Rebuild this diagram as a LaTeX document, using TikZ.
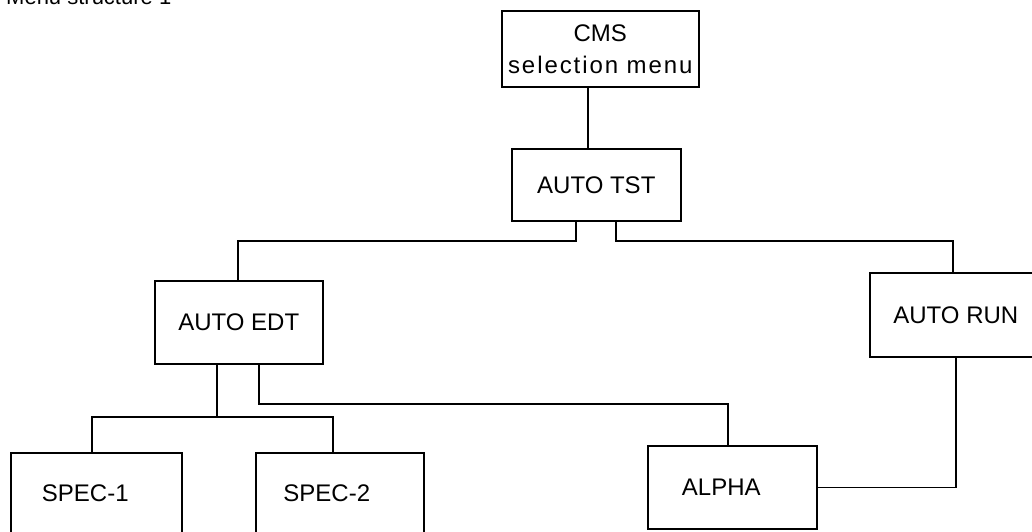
\documentclass[tikz,border=0pt]{standalone}
\usepackage{fontspec}
\setmainfont{Liberation Sans}
\begin{document}
\begin{tikzpicture}[x=1pt,y=-1pt,
  box/.style={draw, line width=1.6pt, rectangle, anchor=north west, inner sep=0pt, align=center, font=\fontsize{24}{32}\selectfont},
  wire/.style={line width=1.6pt}]
\useasboundingbox (0,0) rectangle (1032,531);
\begin{scope}
\clip (0,0) rectangle (1032,531);
\node[anchor=base west, inner sep=0pt, font=\fontsize{22}{26}\selectfont] (title) at (6,4) {Menu structure 1};
\node[box, minimum width=197pt, minimum height=76pt] (cms) at (501,10) {CMS\\{\addfontfeature{LetterSpace=8}selection menu}};
\node[box, minimum width=169pt, minimum height=72pt] (tst) at (511,148) {AUTO TST};
\node[box, minimum width=168pt, minimum height=83pt] (edt) at (154,280) {AUTO EDT};
\node[box, minimum width=172pt, minimum height=84pt] (run) at (869,272) {AUTO RUN};
\node[box, minimum width=171pt, minimum height=80pt] (spec1) at (10,452) {SPEC-1\hspace*{22pt}};
\node[box, minimum width=168pt, minimum height=80pt] (spec2) at (255,452) {SPEC-2\hspace*{26pt}};
\node[box, minimum width=169pt, minimum height=83pt] (alpha) at (647,445) {ALPHA\hspace*{22pt}};
\coordinate (a) at (588,0);
\coordinate (b) at (576,241);
\coordinate (c) at (616,241);
\coordinate (d) at (238,241);
\coordinate (e) at (953,241);
\coordinate (f) at (217,417);
\coordinate (g) at (259,404);
\coordinate (h) at (728,404);
\coordinate (k) at (956,0);
\coordinate (s1) at (92,417);
\coordinate (s2) at (333,417);
\draw[wire] (a |- cms.south) -- (a |- tst.north);
\draw[wire] (b |- tst.south) -- (b) -- (d) -- (d |- edt.north);
\draw[wire] (c |- tst.south) -- (c) -- (e) -- (e |- run.north);
\draw[wire] (f |- edt.south) -- (f);
\draw[wire] (s1 |- spec1.north) -- (s1) -- (s2) -- (s2 |- spec2.north);
\draw[wire] (g |- edt.south) -- (g) -- (h) -- (h |- alpha.north);
\draw[wire] (k |- run.south) -- (k |- alpha.east) -- (alpha.east);
\end{scope}
\end{tikzpicture}
\end{document}
